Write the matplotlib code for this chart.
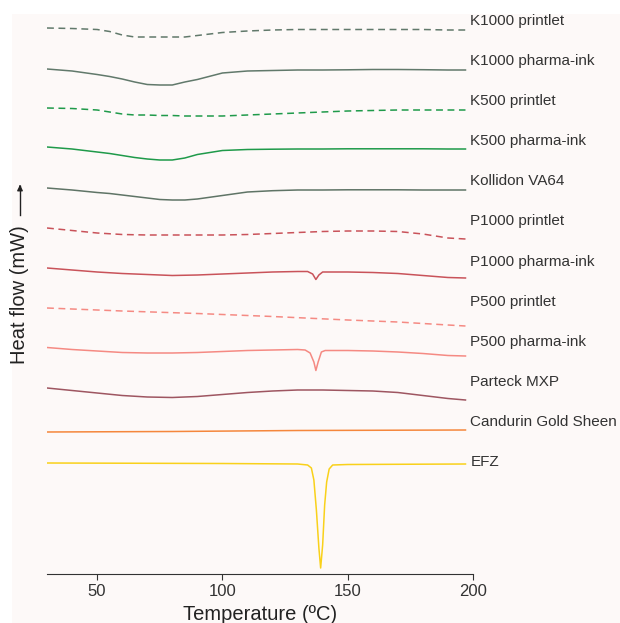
import matplotlib
matplotlib.use("Agg")
import matplotlib.pyplot as plt
from matplotlib.patches import Rectangle

plt.rcParams["font.family"] = ["Liberation Sans", "DejaVu Sans"]

# DSC traces, heat flow in arbitrary mW units (already stacked)
names = ["K1000 printlet", "K1000 pharma-ink", "K500 printlet", "K500 pharma-ink",
         "Kollidon VA64", "P1000 printlet", "P1000 pharma-ink", "P500 printlet",
         "P500 pharma-ink", "Parteck MXP", "Candurin Gold Sheen", "EFZ"]

colors = ["#61796b", "#61796b", "#1f9a4a", "#1f9a4a", "#5f7466", "#c9535a",
          "#c9535a", "#f58a83", "#f58a83", "#9e5661", "#f5873c", "#f9d11a"]

dashed = [True, False, True, False, False, True, False, True, False, False, False, False]

T_base = [30, 40, 50, 60, 70, 80, 90, 100, 110, 120, 130, 140, 150, 160, 170, 180, 190, 197]
T_dip = [30, 40, 50, 55, 60, 65, 70, 75, 80, 85, 90, 100, 110, 120, 130, 140, 150, 160,
         170, 180, 190, 197]

k1000_print = [-2.80, -2.85, -2.95, -3.15, -3.50, -3.70, -3.70, -3.70, -3.70, -3.70,
               -3.55, -3.25, -3.10, -3.00, -2.95, -2.95, -2.95, -2.95, -2.95, -2.95,
               -3.00, -3.00]
k1000_ink = [-6.90, -7.10, -7.45, -7.65, -7.90, -8.20, -8.45, -8.50, -8.50, -8.20,
             -7.95, -7.30, -7.10, -7.05, -7.00, -7.00, -6.98, -6.95, -6.95, -6.97,
             -7.00, -7.00]
k500_print = [-10.80, -10.85, -11.00, -11.20, -11.40, -11.50, -11.50, -11.55, -11.55,
              -11.60, -11.60, -11.60, -11.50, -11.40, -11.30, -11.20, -11.10, -11.05,
              -11.00, -11.00, -11.00, -11.00]
k500_ink = [-14.70, -14.90, -15.20, -15.35, -15.55, -15.75, -15.90, -16.00, -16.00,
            -15.80, -15.45, -15.05, -14.95, -14.92, -14.90, -14.90, -14.88, -14.88,
            -14.88, -14.88, -14.90, -14.90]
kollidon = [-18.80, -19.00, -19.25, -19.35, -19.50, -19.65, -19.80, -19.95, -20.00,
            -20.00, -19.90, -19.55, -19.20, -19.07, -19.00, -19.00, -18.98, -18.98,
            -18.98, -19.00, -19.00, -19.00]
p1000_print = [-22.80, -23.05, -23.30, -23.45, -23.50, -23.50, -23.50, -23.50, -23.45,
               -23.35, -23.25, -23.15, -23.10, -23.10, -23.15, -23.40, -23.80, -23.90]

T_p1000_ink = [30, 40, 50, 60, 70, 80, 90, 100, 110, 120, 130, 134, 136, 137.3, 138.5,
               140, 150, 160, 170, 180, 190, 197]
p1000_ink = [-26.80, -27.00, -27.20, -27.35, -27.45, -27.55, -27.50, -27.40, -27.30,
             -27.20, -27.15, -27.15, -27.40, -27.95, -27.50, -27.20, -27.20, -27.25,
             -27.35, -27.55, -27.75, -27.80]

T_p500_print = [30, 60, 90, 120, 150, 170, 190, 197]
p500_print = [-30.80, -31.10, -31.35, -31.65, -32.00, -32.20, -32.50, -32.60]

T_p500_ink = [30, 40, 50, 60, 70, 80, 90, 100, 110, 120, 130, 133, 135, 136.5, 137.3,
              138.2, 139.5, 141, 150, 160, 170, 180, 190, 197]
p500_ink = [-34.75, -34.95, -35.10, -35.25, -35.30, -35.30, -35.25, -35.15, -35.05,
            -35.00, -34.95, -35.00, -35.30, -36.20, -37.05, -36.20, -35.20, -35.05,
            -35.05, -35.10, -35.20, -35.35, -35.55, -35.60]

parteck = [-38.80, -39.05, -39.30, -39.55, -39.70, -39.75, -39.65, -39.45, -39.25,
           -39.10, -39.00, -39.00, -39.05, -39.10, -39.25, -39.55, -39.85, -40.00]

T_candurin = [30, 80, 130, 197]
candurin = [-43.20, -43.15, -43.05, -43.00]

T_efz = [30, 100, 130, 134, 135.5, 136.5, 137.5, 138.5, 139.2, 140, 140.8, 141.6,
         142.6, 144, 150, 197]
efz = [-46.30, -46.35, -46.40, -46.50, -46.80, -48.00, -51.00, -54.80, -56.80, -54.50,
       -50.50, -48.20, -46.90, -46.50, -46.45, -46.40]

temps = [T_dip, T_dip, T_dip, T_dip, T_dip, T_base, T_p1000_ink, T_p500_print,
         T_p500_ink, T_base, T_candurin, T_efz]
flows = [k1000_print, k1000_ink, k500_print, k500_ink, kollidon, p1000_print,
         p1000_ink, p500_print, p500_ink, parteck, candurin, efz]

fig = plt.figure(figsize=(6.2, 6.23), dpi=100)
fig.patches.append(Rectangle((12 / 620, 0), 1, 1 - 14 / 623, transform=fig.transFigure,
                             facecolor="#fdf9f8", edgecolor="none", zorder=-10))

ax = fig.add_axes([47 / 620, 49 / 623, 426 / 620, 560 / 623])
ax.patch.set_alpha(0)

for i in range(len(names)):
    ls = (0, (4.5, 3)) if dashed[i] else "-"
    ax.plot(temps[i], flows[i], color=colors[i], lw=1.1, ls=ls)
    ax.text(199, -(2.1 + 4.01 * i), names[i], fontsize=11, color="#333333",
            va="center", ha="left", clip_on=False)

ax.set_xlim(30, 200)
ax.set_ylim(-57.4, -1.4)
ax.set_xticks([50, 100, 150, 200])
ax.set_yticks([])
for s in ["top", "right", "left"]:
    ax.spines[s].set_visible(False)
ax.spines["bottom"].set_color("#333333")
ax.tick_params(axis="x", direction="out", length=4, color="#333333",
               labelsize=12, labelcolor="#333333")
ax.set_xlabel("Temperature (ºC)", fontsize=14.5, color="#222222", labelpad=4)

fig.text(20 / 620, 1 - 295 / 623, "Heat flow (mW)", rotation=90, fontsize=14.5,
         color="#222222", ha="center", va="center")
fig.add_artist(plt.Line2D([20 / 620, 20 / 620], [1 - 215 / 623, 1 - 186 / 623],
                          transform=fig.transFigure, color="#222222", lw=1))
ax.annotate("", xy=(20 / 620, 1 - 182 / 623), xytext=(20 / 620, 1 - 190 / 623),
            xycoords="figure fraction", textcoords="figure fraction",
            arrowprops=dict(arrowstyle="-|>", color="#222222", lw=1,
                            mutation_scale=8))

fig.savefig("out.png", dpi=100)
